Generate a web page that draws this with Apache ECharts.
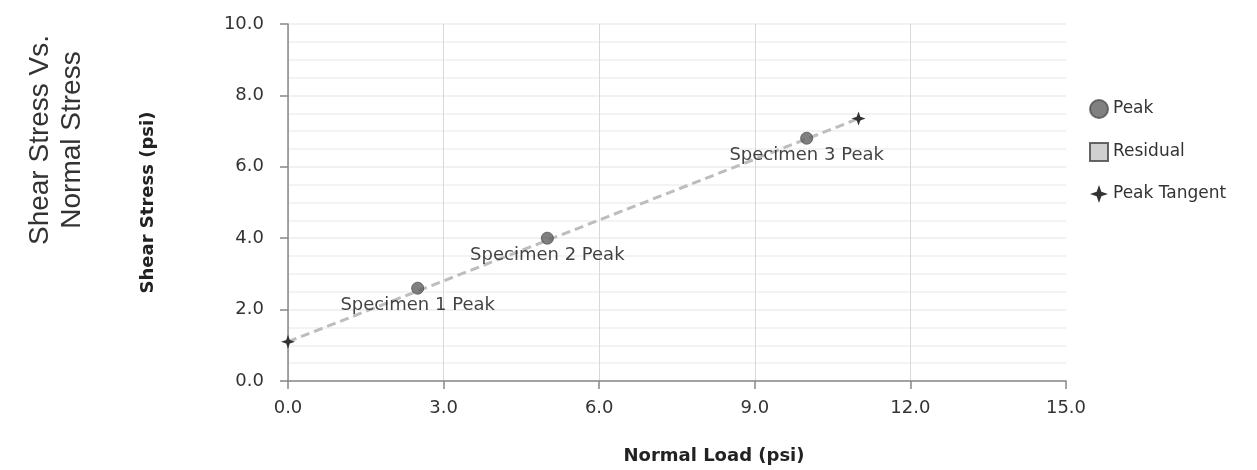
<!doctype html>
<html>
    <head>
        <meta charset="utf-8">
        <title>Shear Stress Vs. Normal Stress</title>
        <style>
            html, body { margin: 0; padding: 0; background: #fff; }
            #main { width: 1257px; height: 470px; }
        </style>
    </head>
    <body>
        <div id="main"></div>
        <script src="https://cdn.jsdelivr.net/npm/echarts@6/dist/echarts.min.js"></script>
        <script>
            var chart = echarts.init(document.getElementById('main'));

            var peakX = [2.5, 5, 10];
            var peakY = [2.6, 4.0, 6.8];
            var peakLabels = ['Specimen 1 Peak', 'Specimen 2 Peak', 'Specimen 3 Peak'];

            var tangentX = [0, 11];
            var tangentY = [1.1, 7.35];

            var residualX = [];
            var residualY = [];

            var xTicks = { min: 0, max: 15, interval: 3 };
            var yTicks = { min: 0, max: 10, interval: 2 };

            function pairs(xs, ys) {
                return xs.map(function (x, i) { return [x, ys[i]]; });
            }

            var starPath = 'path://M0,-10 L2.6,-2.6 L10,0 L2.6,2.6 L0,10 L-2.6,2.6 L-10,0 L-2.6,-2.6 Z';
            var textFont = 'DejaVu Sans';

            chart.setOption({
                animation: false,
                graphic: [{
                    type: 'text',
                    rotation: Math.PI / 2,
                    x: 56,
                    y: 140,
                    style: {
                        text: 'Shear Stress Vs.\nNormal Stress',
                        font: '28px "Liberation Sans", Arial, sans-serif',
                        fill: '#333',
                        align: 'center',
                        verticalAlign: 'middle',
                        lineHeight: 32
                    }
                }],
                legend: {
                    orient: 'vertical',
                    left: 1084,
                    top: 94,
                    itemWidth: 18,
                    itemHeight: 18,
                    itemGap: 23,
                    textStyle: { fontFamily: textFont, fontSize: 17, color: '#333' },
                    data: [
                        { name: 'Peak', icon: 'circle' },
                        { name: 'Residual', icon: 'rect' },
                        { name: 'Peak Tangent', icon: starPath }
                    ]
                },
                grid: { left: 288, right: 191, top: 24, bottom: 87 },
                xAxis: {
                    type: 'value',
                    min: xTicks.min,
                    max: xTicks.max,
                    interval: xTicks.interval,
                    name: 'Normal Load (psi)',
                    nameLocation: 'middle',
                    nameGap: 66,
                    nameTextStyle: {
                        fontFamily: textFont, fontSize: 18, fontWeight: 'bold', color: '#222',
                        padding: [0, 0, 0, 74]
                    },
                    axisLine: { lineStyle: { color: '#888', width: 1.5 } },
                    axisTick: { show: true, length: 8, lineStyle: { color: '#888', width: 1.5 } },
                    axisLabel: {
                        fontFamily: textFont, fontSize: 18, color: '#333', margin: 18,
                        formatter: function (v) { return v.toFixed(1); }
                    },
                    splitLine: { show: true, showMaxLine: false, lineStyle: { color: '#d8d8d8', width: 1 } }
                },
                yAxis: {
                    type: 'value',
                    min: yTicks.min,
                    max: yTicks.max,
                    interval: yTicks.interval,
                    name: 'Shear Stress (psi)',
                    nameLocation: 'middle',
                    nameGap: 131,
                    nameTextStyle: { fontFamily: textFont, fontSize: 18, fontWeight: 'bold', color: '#222' },
                    axisLine: { show: true, lineStyle: { color: '#888', width: 1.5 } },
                    axisTick: { show: true, length: 8, lineStyle: { color: '#888', width: 1.5 } },
                    axisLabel: {
                        fontFamily: textFont, fontSize: 18, color: '#333', margin: 24,
                        formatter: function (v) { return v.toFixed(1); }
                    },
                    splitLine: { show: true, lineStyle: { color: '#ececec', width: 1.5 } },
                    minorTick: { show: false, splitNumber: 4 },
                    minorSplitLine: { show: true, lineStyle: { color: '#f0f0f0', width: 1.5 } }
                },
                series: [
                    {
                        name: 'Peak Tangent',
                        type: 'line',
                        data: pairs(tangentX, tangentY),
                        symbol: starPath,
                        symbolSize: 14,
                        itemStyle: { color: '#333' },
                        lineStyle: { color: '#bdbdbd', width: 3, type: [9, 5] },
                        z: 2
                    },
                    {
                        name: 'Peak',
                        type: 'scatter',
                        data: pairs(peakX, peakY),
                        symbol: 'circle',
                        symbolSize: 12,
                        itemStyle: { color: '#606060', borderColor: '#505050', borderWidth: 1 },
                        label: {
                            show: true,
                            position: 'bottom',
                            distance: 2,
                            fontFamily: textFont,
                            fontSize: 18,
                            color: '#111',
                            formatter: function (p) { return peakLabels[p.dataIndex]; }
                        },
                        z: 3
                    },
                    {
                        name: 'Residual',
                        type: 'scatter',
                        data: pairs(residualX, residualY),
                        symbol: 'rect',
                        symbolSize: 12,
                        itemStyle: { color: '#c4c4c4', borderColor: '#444', borderWidth: 1.5 }
                    }
                ]
            });

            window.onresize = chart.resize;
        </script>
    </body>
</html>
